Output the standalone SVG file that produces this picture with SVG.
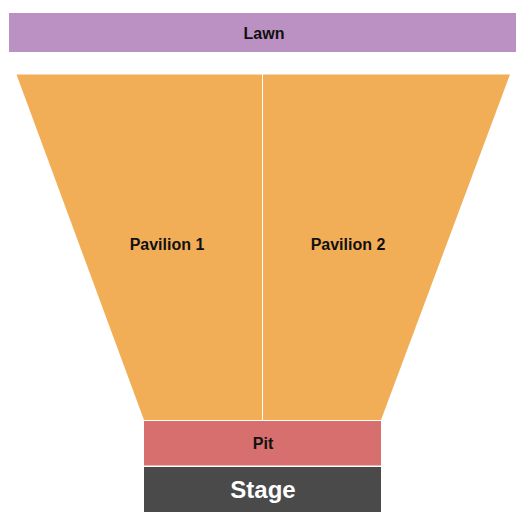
<svg xmlns="http://www.w3.org/2000/svg" width="525" height="525" viewBox="0 0 525 525">
<style>
.lbl{font-family:"Liberation Sans",Arial,sans-serif;font-weight:bold;font-size:16px;fill:#111;text-anchor:middle;dominant-baseline:central}
.stage{font-size:24px;fill:#fff}
.pav{fill:#F2AE57}
</style>
<rect width="525" height="525" fill="#fff"/>
<g id="lawn"><rect x="9" y="13" width="507" height="39" fill="#BB90C2"/><text class="lbl" x="264" y="33">Lawn</text></g>
<g id="pavilion1"><polygon class="pav" points="16.5,74.5 262,74.5 262,420 144,420"/><text class="lbl" x="167" y="244">Pavilion 1</text></g>
<g id="pavilion2"><polygon class="pav" points="263,74.5 510,74.5 381,420 263,420"/><text class="lbl" x="348" y="244">Pavilion 2</text></g>
<g id="pit"><rect x="144" y="421" width="237" height="44.5" fill="#D66F6D"/><text class="lbl" x="263" y="443">Pit</text></g>
<g id="stage"><rect x="144" y="467" width="237" height="45" fill="#4A4A4A"/><text class="lbl stage" x="263" y="489">Stage</text></g>
<g id="connectors"/>
</svg>
